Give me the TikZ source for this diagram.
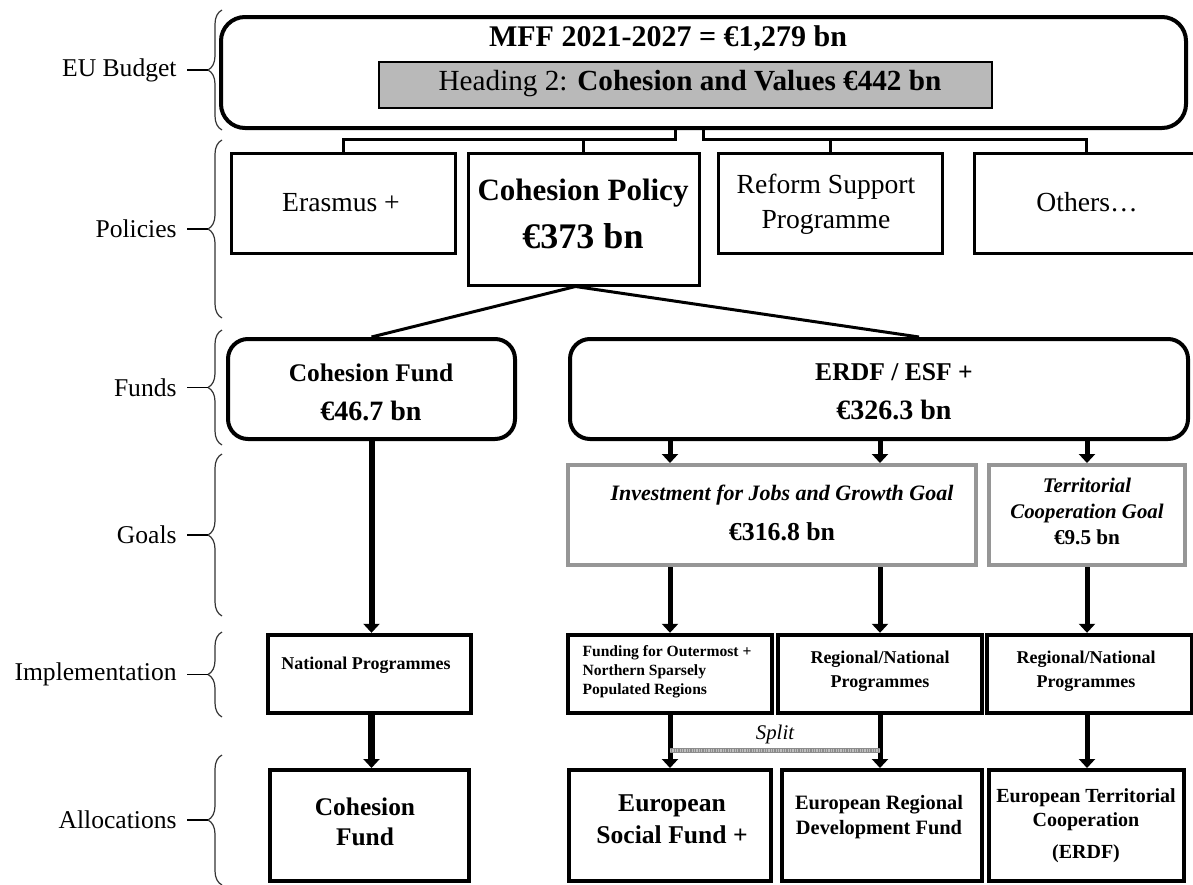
\documentclass[tikz,border=0pt]{standalone}
\usepackage{fontspec}
\setmainfont{Liberation Serif}
\usetikzlibrary{arrows.meta, positioning, decorations.pathreplacing}
\definecolor{headgrey}{RGB}{185, 185, 185}
\definecolor{goalgrey}{RGB}{150, 150, 150}
\definecolor{splitgrey}{RGB}{140, 140, 140}

\begin{document}
\begin{tikzpicture}[x=0.5pt, y=-0.5pt,
    box/.style={draw, line width=1.5pt, inner sep=0pt},
    rbox/.style={draw, line width=2pt, rounded corners=10pt, inner sep=0pt},
    goalbox/.style={draw=goalgrey, line width=2pt, inner sep=0pt},
    progbox/.style={draw, line width=2.2pt, inner sep=0pt},
    txt/.style={inner sep=0pt, align=center},
    link/.style={line width=1.5pt},
    flow/.style={line width=2.5pt, -{Triangle[width=8pt, length=4.5pt]}},
    levelbrace/.style={decorate, decoration={brace, amplitude=7pt}, line width=0.6pt, draw=black!80},
    levellabel/.style={anchor=east, inner sep=0pt, font=\fontsize{12.8}{15}\selectfont}]

    \useasboundingbox (0,0) rectangle (1193,884);
    \clip (0,0) rectangle (1193,884);

    % Level braces on the left
    \foreach \lvl/\ytop/\ybot/\lbl in {budget/10/130/EU Budget, policies/140/318/Policies,
        funds/330/445/Funds, goals/454/616/Goals, implementation/632/717/Implementation,
        allocations/755/885/Allocations}
    {
        \draw[levelbrace] (222,\ybot) -- (222,\ytop);
        \coordinate (tip\lvl) at (208,{(\ytop+\ybot)/2});
        \node[levellabel] (lbl\lvl) at (177,{(\ytop+\ybot)/2}) {\lbl};
        \draw[line width=0.6pt] ([xshift=5pt]lbl\lvl.east) -- (tip\lvl);
    }

    % EU Budget
    \node[rbox, rounded corners=12pt, minimum width=482.5pt, minimum height=55.5pt] (budget) at (703.5,72.5) {};
    \node[txt, font=\fontsize{15}{18}\selectfont\bfseries] (mfftext) at (668,38) {MFF 2021-2027 = €1,279 bn};
    \node[draw, line width=1pt, fill=headgrey, minimum width=306.5pt, minimum height=23pt] (heading) at (685.5,85) {};
    \node[txt, font=\fontsize{14.6}{17}\selectfont] (headingtext) at (690,84) {Heading 2: \textbf{Cohesion and Values €442 bn}};

    % Policies
    \node[box, minimum width=112pt, minimum height=50pt] (erasmus) at (343,203) {};
    \node[txt, font=\fontsize{13.8}{17.5}\selectfont] (erasmustext) at (341,203) {Erasmus +};
    \node[box, minimum width=115.5pt, minimum height=66pt] (cohpol) at (583.5,219) {};
    \node[txt, font=\fontsize{15.5}{24}\selectfont\bfseries] (cohpoltext) at (583,214)
        {Cohesion Policy\\{\fontsize{18}{24}\selectfont €373 bn}};
    \node[box, minimum width=112pt, minimum height=50pt] (reform) at (830,203) {};
    \node[txt, font=\fontsize{13.8}{17.5}\selectfont] (reformtext) at (826,204.5) {Reform Support\\Programme};
    \node[box, minimum width=112pt, minimum height=50pt] (others) at (1086,203) {};
    \node[txt, font=\fontsize{13.8}{17.5}\selectfont] (otherstext) at (1087,202) {Others…};

    \draw[link] ([xshift=-14pt]budget.south) |- ([yshift=6pt]erasmus.north) -- (erasmus.north);
    \draw[link] (cohpol.north) -- ([yshift=6pt]cohpol.north);
    \draw[link] (budget.south) |- ([yshift=6pt]others.north) -- (others.north);
    \draw[link] (reform.north) -- ([yshift=6pt]reform.north);

    % Funds
    \node[rbox, minimum width=143.5pt, minimum height=50pt] (cohfund) at (371.5,389) {};
    \node[txt, font=\fontsize{12.7}{19.5}\selectfont\bfseries] (cohfundtext) at (371,392)
        {Cohesion Fund\\{\fontsize{14}{19.5}\selectfont €46.7 bn}};
    \node[rbox, minimum width=309pt, minimum height=50pt] (erdf) at (879,389) {};
    \node[txt, font=\fontsize{12.8}{19.5}\selectfont\bfseries] (erdftext) at (894,392)
        {ERDF / ESF +\\{\fontsize{14}{19.5}\selectfont €326.3 bn}};

    \coordinate (apex) at ([xshift=-4pt]cohpol.south);
    \draw[link] (apex) -- (cohfund.north);
    \draw[link] (apex) -- ([xshift=20pt]erdf.north);

    % Goals
    \node[goalbox, minimum width=204pt, minimum height=50pt] (invest) at (772,515) {};
    \node[txt, font=\fontsize{11}{20}\selectfont\bfseries] (investtext) at (782,513)
        {\itshape Investment for Jobs and Growth Goal\\{\fontsize{12.9}{20}\selectfont €316.8 bn}};
    \node[goalbox, minimum width=98pt, minimum height=50pt] (territorial) at (1087,515) {};
    \node[txt, font=\fontsize{10.4}{13.2}\selectfont\bfseries] (territorialtext) at (1087,511.5)
        {\itshape Territorial\\\itshape Cooperation Goal\\{\fontsize{10.6}{13.2}\selectfont €9.5 bn}};

    % Implementation
    \node[progbox, minimum width=101.5pt, minimum height=39pt] (natprog) at (369.5,674) {};
    \node[txt, font=\fontsize{9}{12}\selectfont\bfseries] (natprogtext) at (366,665) {National Programmes};
    \node[progbox, minimum width=102pt, minimum height=39pt] (funding) at (670,674) {};
    \node[txt, align=left, font=\fontsize{7.8}{9.5}\selectfont\bfseries] (fundingtext) at (667,672)
        {Funding for Outermost +\\Northern Sparsely\\Populated Regions};
    \node[progbox, minimum width=102pt, minimum height=39pt] (regprog) at (880,674) {};
    \node[txt, font=\fontsize{9}{12}\selectfont\bfseries] (regprogtext) at (880,671) {Regional/National\\Programmes};
    \node[progbox, minimum width=102.5pt, minimum height=39pt] (terrprog) at (1089.5,674) {};
    \node[txt, font=\fontsize{9}{12}\selectfont\bfseries] (terrprogtext) at (1086,671) {Regional/National\\Programmes};

    % Allocations
    \node[progbox, line width=2pt, minimum width=99.5pt, minimum height=55.5pt] (cohalloc) at (369.5,825.5) {};
    \node[txt, font=\fontsize{12.7}{15}\selectfont\bfseries] (cohalloctext) at (365,822) {Cohesion\\Fund};
    \node[progbox, line width=2pt, minimum width=101pt, minimum height=55.5pt] (esf) at (670,825.5) {};
    \node[txt, font=\fontsize{12.8}{16}\selectfont\bfseries] (esftext) at (672,819) {European\\Social Fund +};
    \node[progbox, line width=2pt, minimum width=100pt, minimum height=55.5pt] (erdfalloc) at (882,825.5) {};
    \node[txt, font=\fontsize{10.2}{12.5}\selectfont\bfseries] (erdfalloctext) at (879,817.5)
        {European Regional\\Development Fund};
    \node[progbox, line width=2pt, minimum width=97.5pt, minimum height=55.5pt] (etc) at (1086.5,825.5) {};
    \node[txt, font=\fontsize{10}{12}\selectfont\bfseries] (etctext) at (1086,826)
        {European Territorial\\Cooperation\\[4pt](ERDF)};

    % Flows
    \draw[flow, line width=3pt] (cohfund.south) -- (cohfund.south |- natprog.north);
    \draw[flow, line width=3.5pt] (natprog.south -| cohfund.south) -- (cohfund.south |- cohalloc.north);
    \draw[flow] (erdf.south -| funding) -- (invest.north -| funding);
    \draw[flow] (erdf.south -| regprog) -- (invest.north -| regprog);
    \draw[flow] (erdf.south -| territorial) -- (territorial.north);
    \draw[flow] (invest.south -| funding) -- (funding.north);
    \draw[flow] (invest.south -| regprog) -- (regprog.north);
    \draw[flow] (territorial.south) -- (territorial.south |- terrprog.north);
    \draw[flow] (funding.south) -- (funding.south |- esf.north);
    \draw[flow] (regprog.south) -- (regprog.south |- erdfalloc.north);
    \draw[flow] (terrprog.south -| territorial) -- (territorial |- etc.north);

    % Split
    \coordinate (splitl) at ([yshift=-17.5pt]funding.south);
    \coordinate (splitr) at (splitl -| regprog);
    \draw[line width=2.5pt, splitgrey] (splitl) -- (splitr);
    \draw[line width=1.5pt, white!75!black, dash pattern=on 0.6pt off 0.6pt] (splitl) -- (splitr)
        node[midway, above=2.5pt, inner sep=0pt, black, font=\fontsize{10.4}{12}\selectfont\itshape] (splittext) {Split};

\end{tikzpicture}
\end{document}
